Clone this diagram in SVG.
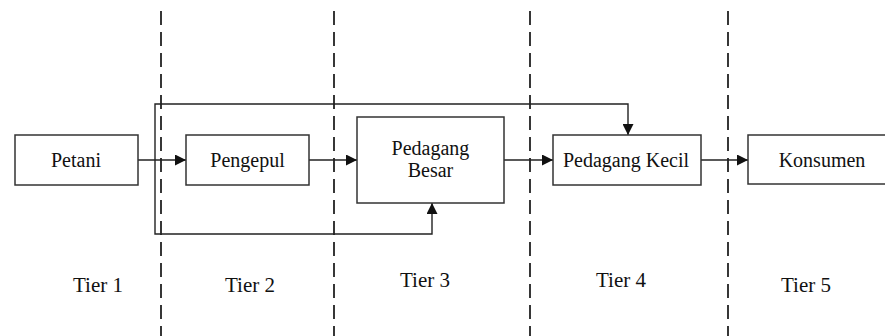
<svg xmlns="http://www.w3.org/2000/svg" width="885" height="336" viewBox="0 0 885 336">
<style>
.box{fill:#fff;stroke:#333;stroke-width:1.5}
.lbl{font-family:"Liberation Serif","Times New Roman",serif;font-size:20px;fill:#111;text-anchor:middle}
.tier{font-family:"Liberation Serif","Times New Roman",serif;font-size:21px;fill:#111;text-anchor:middle}
.dash{stroke:#222;stroke-width:1.8;stroke-dasharray:14 7;fill:none}
.con{stroke:#222;stroke-width:1.4;fill:none}
</style>
<defs>
<marker id="arr" viewBox="0 0 10 10" refX="10" refY="5" markerWidth="11" markerHeight="11" markerUnits="userSpaceOnUse" orient="auto">
<path d="M0,0 L10,5 L0,10 z" fill="#111"/>
</marker>
</defs>
<rect width="885" height="336" fill="#fff"/>
<g id="dividers">
<line class="dash" x1="161" y1="11" x2="161" y2="336"/>
<line class="dash" x1="334" y1="11" x2="334" y2="336"/>
<line class="dash" x1="530" y1="11" x2="530" y2="336"/>
<line class="dash" x1="728" y1="11" x2="728" y2="336"/>
</g>
<g id="connectors">
<line class="con" x1="138" y1="160" x2="186" y2="160" marker-end="url(#arr)"/>
<line class="con" x1="309" y1="160" x2="357" y2="160" marker-end="url(#arr)"/>
<line class="con" x1="504" y1="160" x2="553" y2="160" marker-end="url(#arr)"/>
<line class="con" x1="701" y1="160" x2="748" y2="160" marker-end="url(#arr)"/>
<polyline class="con" points="155,160 155,104 628,104 628,135" marker-end="url(#arr)"/>
<polyline class="con" points="155,160 155,234 432,234 432,203" marker-end="url(#arr)"/>
</g>
<g id="petani">
<rect class="box" x="15" y="135" width="123" height="50"/>
<text class="lbl" x="76" y="167">Petani</text>
</g>
<g id="pengepul">
<rect class="box" x="186" y="135" width="123" height="50"/>
<text class="lbl" x="247.5" y="167">Pengepul</text>
</g>
<g id="pedagang-besar">
<rect class="box" x="357" y="117" width="147" height="86"/>
<text class="lbl" x="430.5" y="155">Pedagang</text>
<text class="lbl" x="430.5" y="177">Besar</text>
</g>
<g id="pedagang-kecil">
<rect class="box" x="553" y="135" width="148" height="50"/>
<text class="lbl" x="626" y="167">Pedagang Kecil</text>
</g>
<g id="konsumen">
<rect class="box" x="748" y="135" width="148" height="49"/>
<text class="lbl" x="822" y="167">Konsumen</text>
</g>
<g id="tiers">
<text class="tier" x="98" y="292">Tier 1</text>
<text class="tier" x="250" y="292">Tier 2</text>
<text class="tier" x="425" y="287">Tier 3</text>
<text class="tier" x="621" y="287">Tier 4</text>
<text class="tier" x="806" y="292">Tier 5</text>
</g>
</svg>
